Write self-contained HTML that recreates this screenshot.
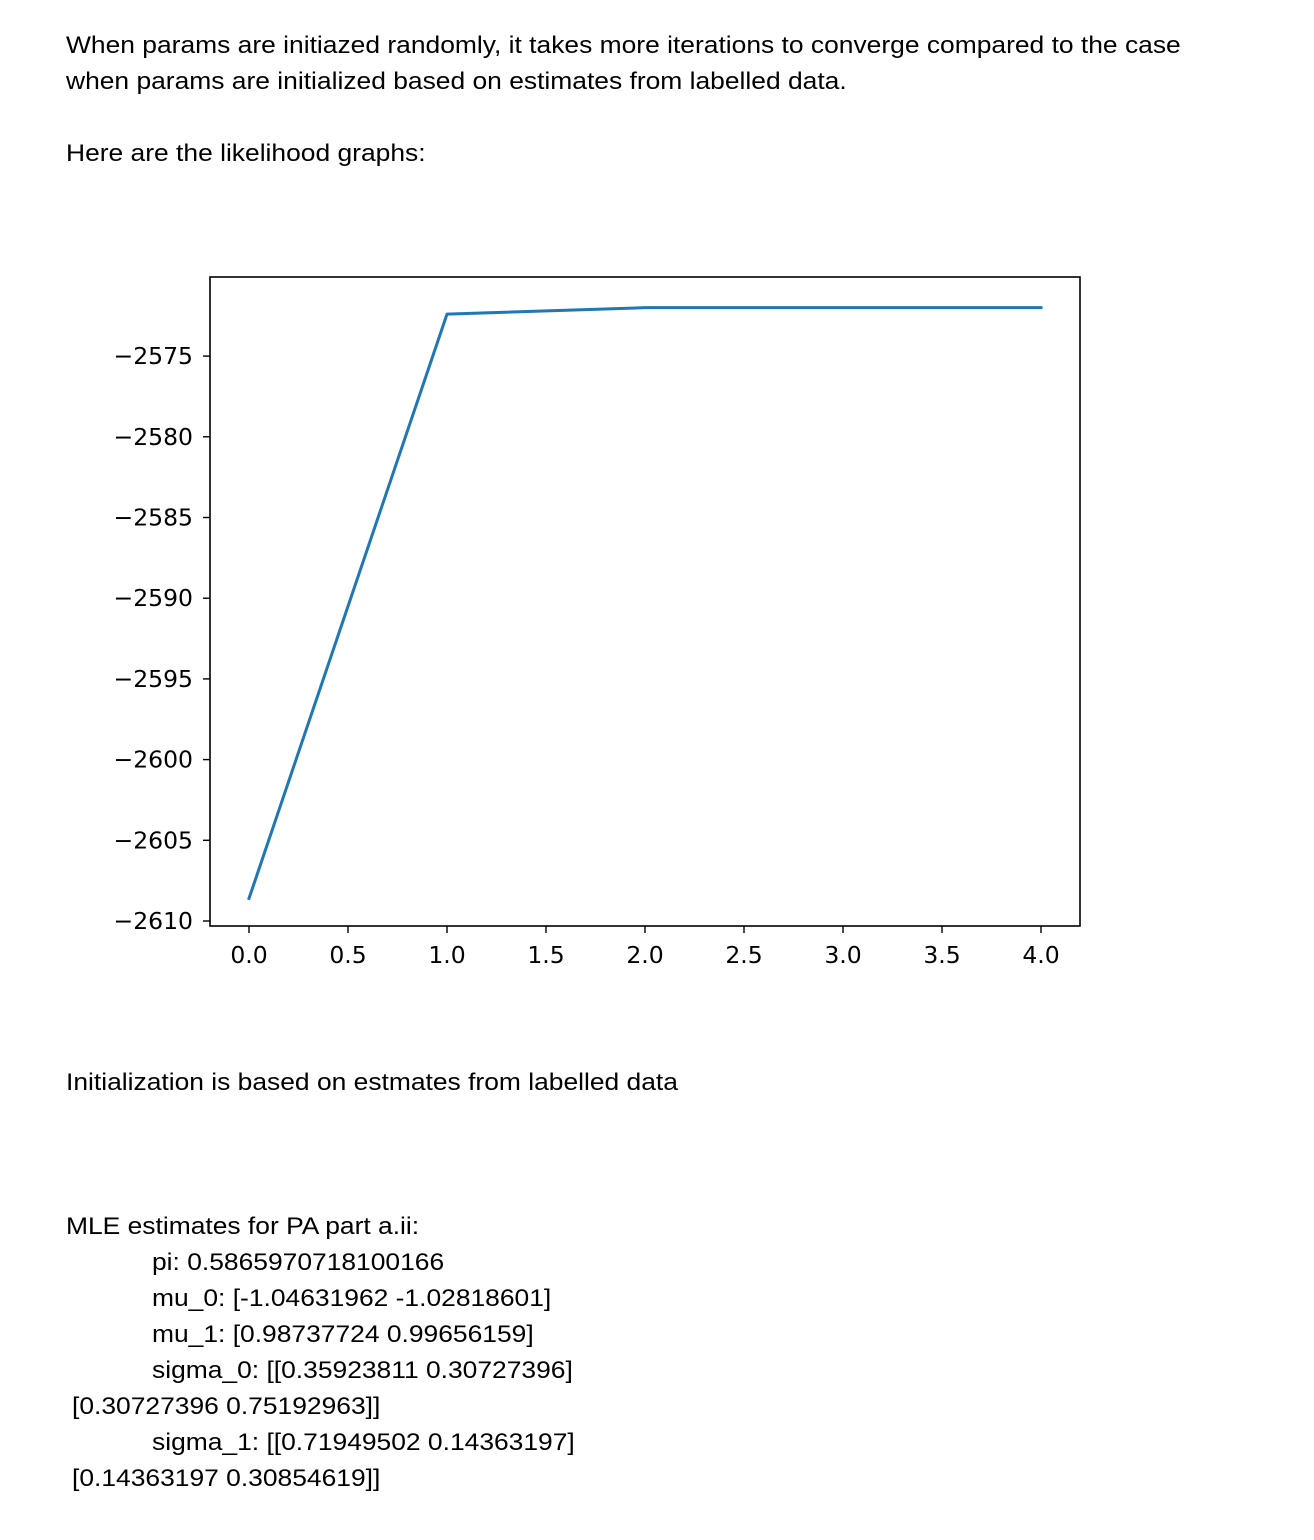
<!DOCTYPE html>
<html><head><meta charset="utf-8"><style>
body{margin:0;width:1314px;height:1540px;background:#fff;position:relative;font-family:"Liberation Sans",Arial,sans-serif;color:#000;overflow:hidden}
.t{position:absolute;font-size:24px;line-height:36px;white-space:pre;transform:scaleX(1.1);transform-origin:0 0}
svg text{font-family:"DejaVu Sans",sans-serif;font-size:23.5px;fill:#000}
</style></head><body>
<div class="t" style="left:66px;top:28px">When params are initiazed randomly, it takes more iterations to converge compared to the case</div>
<div class="t" style="left:66px;top:64px">when params are initialized based on estimates from labelled data.</div>
<div class="t" style="left:66px;top:136px">Here are the likelihood graphs:</div>
<svg id="chart" width="1314" height="1000" style="position:absolute;left:0;top:0"></svg>
<div class="t" style="left:66px;top:1065px">Initialization is based on estmates from labelled data</div>
<div class="t" style="left:66px;top:1209px">MLE estimates for PA part a.ii:</div>
<div class="t" style="left:152px;top:1245px">pi: 0.5865970718100166</div>
<div class="t" style="left:152px;top:1281px">mu_0: [-1.04631962 -1.02818601]</div>
<div class="t" style="left:152px;top:1317px">mu_1: [0.98737724 0.99656159]</div>
<div class="t" style="left:152px;top:1353px">sigma_0: [[0.35923811 0.30727396]</div>
<div class="t" style="left:72px;top:1389px">[0.30727396 0.75192963]]</div>
<div class="t" style="left:152px;top:1425px">sigma_1: [[0.71949502 0.14363197]</div>
<div class="t" style="left:72px;top:1461px">[0.14363197 0.30854619]]</div>
<script>
const xValues=[0,1,2,3,4];
const yValues=[-2608.6,-2572.4,-2572.0,-2572.0,-2572.0];
const xTicks=[0,0.5,1,1.5,2,2.5,3,3.5,4];
const xTickLabels=["0.0","0.5","1.0","1.5","2.0","2.5","3.0","3.5","4.0"];
const yTicks=[-2575,-2580,-2585,-2590,-2595,-2600,-2605,-2610];
const yTickLabels=["\u22122575","\u22122580","\u22122585","\u22122590","\u22122595","\u22122600","\u22122605","\u22122610"];
const svg=document.getElementById('chart');
const NS='http://www.w3.org/2000/svg';
const L=210,R=1080,T=277,B=926;
const sx=v=>249+(v-0)*198;
const sy=v=>921-(v+2610)*16.14;
function mk(tag,a){const e=document.createElementNS(NS,tag);for(const k in a)e.setAttribute(k,a[k]);svg.appendChild(e);return e;}
const frame=mk('rect',{x:L,y:T,width:R-L,height:B-T,fill:'none',stroke:'#000','stroke-width':1.6});


xTicks.forEach((v,i)=>{
 const l=mk('line',{x1:sx(v),x2:sx(v),y1:B,y2:B+7,stroke:'#000','stroke-width':1.4});
 
 
 const t=mk('text',{x:sx(v),y:B+37,'text-anchor':'middle'});t.textContent=xTickLabels[i];
 
 
});
yTicks.forEach((v,i)=>{
 const l=mk('line',{x1:L-7,x2:L,y1:sy(v),y2:sy(v),stroke:'#000','stroke-width':1.4});
 
 
 const t=mk('text',{x:L-17,y:sy(v)+8,'text-anchor':'end'});t.textContent=yTickLabels[i];
 
 
});
const pts=xValues.map((x,i)=>sx(x)+','+sy(yValues[i])).join(' ');
const line=mk('polyline',{points:pts,fill:'none',stroke:'#1f77b4','stroke-width':3,'stroke-linejoin':'round','stroke-linecap':'square'});


</script>
</body></html>
